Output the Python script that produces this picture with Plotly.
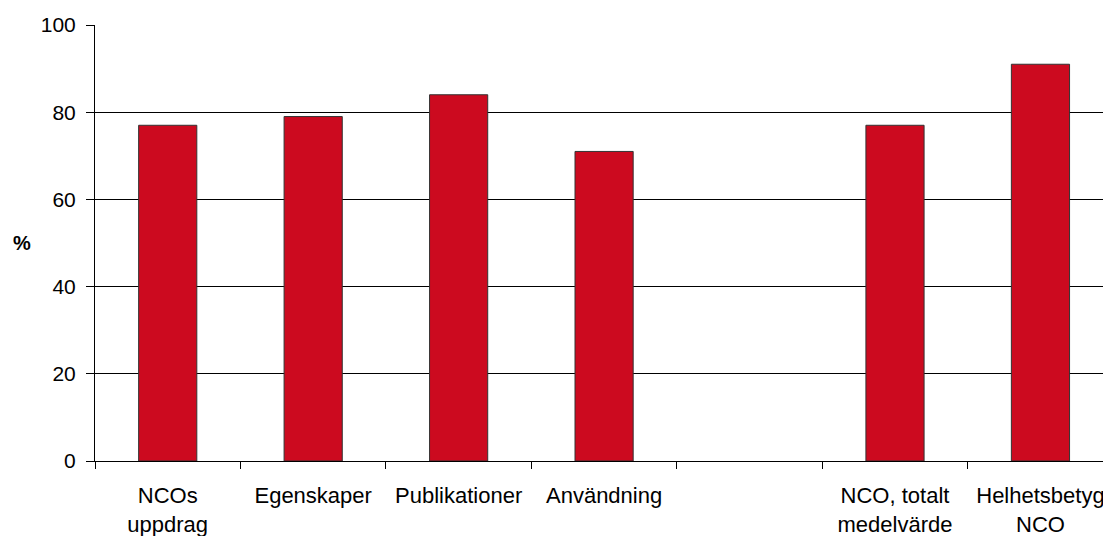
import plotly.graph_objects as go

categories = ["NCOs<br>uppdrag", "Egenskaper", "Publikationer", "Användning", " ",
              "NCO, totalt<br>medelvärde", "Helhetsbetyg<br>NCO"]
values = [77, 79, 84, 71, None, 77, 91]
y_ticks = [0, 20, 40, 60, 80, 100]

fig = go.Figure(go.Bar(
    x=categories, y=values,
    marker=dict(color="#CC0A1F", line=dict(color="#333333", width=1)),
))

ff = "Liberation Sans, Arial, sans-serif"
xfont = dict(family=ff, size=22, color="black")
yfont = dict(family=ff, size=21, color="black")
# page body has an 8px margin; compensate so plot area spans x 95..1111, y 25..461
fig.update_layout(
    width=1103, height=528,
    margin=dict(l=87, r=0, t=17, b=75),
    paper_bgcolor="white", plot_bgcolor="white",
    bargap=0.6, showlegend=False, font=yfont,
    xaxis=dict(type="category", range=[-0.5, 6.485], showline=True, linecolor="black",
               linewidth=1, ticks="outside", tickson="boundaries", ticklen=7,
               tickcolor="black", showgrid=False, tickfont=xfont,
               ticklabelstandoff=15, automargin=False),
    yaxis=dict(range=[0, 100], tickvals=y_ticks, showline=True, linecolor="black",
               linewidth=1, ticks="outside", ticklen=8, tickcolor="black",
               showgrid=True, gridcolor="black", gridwidth=1, tickfont=yfont,
               zeroline=False, ticklabelstandoff=6, automargin=False),
    annotations=[dict(text="<b>%</b>", x=(22 - 95) / 1016, xref="paper", y=0.5, yref="paper",
                      xanchor="center", yanchor="middle", showarrow=False,
                      font=dict(family=ff, size=20, color="black"))],
)
fig.write_html("out.html")
